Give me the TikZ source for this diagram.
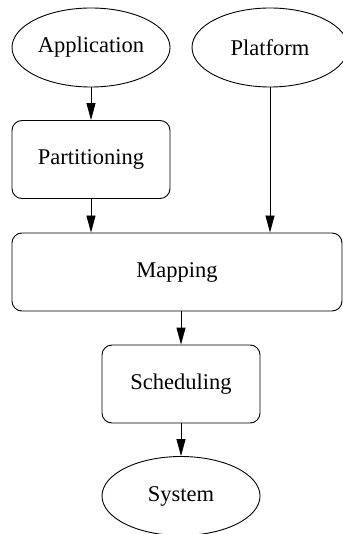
\documentclass[tikz,border=0pt]{standalone}
\usepackage{fontspec}
\setmainfont{Liberation Serif}
\usetikzlibrary{shapes.geometric,arrows.meta}
\begin{document}
\begin{tikzpicture}[x=1pt,y=-1pt,
  every node/.style={font=\fontsize{22.5}{27}\selectfont, inner sep=0pt, line width=0.9pt},
  ell/.style={draw, ellipse, minimum width=158pt, minimum height=79pt},
  rbox/.style={draw, rectangle, rounded corners=10pt, minimum height=78pt},
  arr/.style={line width=0.9pt, -{Triangle[length=17pt,width=9pt]}}]
\useasboundingbox (0,0) rectangle (342,534);
\node[ell] (app) at (91,47.5) {Application};
\node[ell, minimum width=156pt] (plat) at (270,47.5) {Platform};
\node[rbox, minimum width=158pt] (part) at (91,159.5) {Partitioning};
\node[rbox, minimum width=330pt] (map) at (177,272) {Mapping};
\node[rbox, minimum width=158pt] (sched) at (181,384) {Scheduling};
\node[ell] (sys) at (181,496) {System};
\draw[arr] (app.south) -- (part.north);
\draw[arr] (plat.south) -- (plat.south |- map.north);
\draw[arr] (part.south) -- (part.south |- map.north);
\draw[arr] (sched.north |- map.south) -- (sched.north);
\draw[arr] (sched.south) -- (sys.north);
\end{tikzpicture}
\end{document}
